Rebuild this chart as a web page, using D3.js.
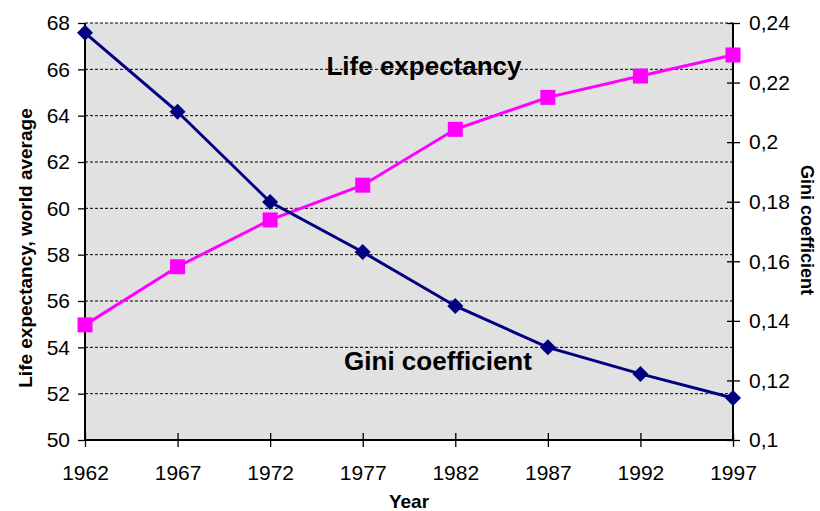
<!DOCTYPE html>
<html>
<head>
<meta charset="utf-8">
<script src="https://cdn.jsdelivr.net/npm/d3@7"></script>
<style>
  body { margin: 0; background: #fff; }
  text { font-family: "Liberation Sans", Arial, sans-serif; }
</style>
</head>
<body>
<div id="chart"></div>
<script>
// data
var years = [1962, 1967, 1972, 1977, 1982, 1987, 1992, 1997];
var lifeExp = [54.97, 57.48, 59.5, 61.0, 63.41, 64.79, 65.71, 66.62];
var gini = [0.2367, 0.2102, 0.1799, 0.1631, 0.145, 0.1311, 0.1222, 0.1141];
var leftTicks = [50, 52, 54, 56, 58, 60, 62, 64, 66, 68];
var rightTicks = [0.1, 0.12, 0.14, 0.16, 0.18, 0.2, 0.22, 0.24];

var W = 820, H = 511;
var margin = { top: 23, right: 87, bottom: 71, left: 85 };
var width = W - margin.left - margin.right,
    height = H - margin.top - margin.bottom;

var svg = d3.select("#chart").append("svg")
    .attr("width", W).attr("height", H);

var g = svg.append("g")
    .attr("transform", "translate(" + margin.left + "," + margin.top + ")");

var x = d3.scaleLinear().domain([1962, 1997]).range([0, width]);
var yL = d3.scaleLinear().domain([50, 68]).range([height, 0]);
var yR = d3.scaleLinear().domain([0.1, 0.24]).range([height, 0]);

// plot background
g.append("rect")
    .attr("width", width).attr("height", height)
    .attr("fill", "#e1e1e1");

// dashed gridlines
g.append("g").selectAll("line")
    .data(leftTicks.filter(function (d) { return d > 50; }))
    .enter().append("line")
    .attr("x1", 0).attr("x2", width)
    .attr("y1", function (d) { return yL(d); })
    .attr("y2", function (d) { return yL(d); })
    .attr("stroke", "#000").attr("stroke-width", 1)
    .attr("stroke-dasharray", "3,2");

var fmtComma = function (d) { return d3.format("~g")(+d.toFixed(2)).replace(".", ","); };

// axes
var axL = g.append("g")
    .call(d3.axisLeft(yL).tickValues(leftTicks).tickSize(7).tickPadding(8));
var axR = g.append("g").attr("transform", "translate(" + width + ",0)")
    .call(d3.axisRight(yR).tickValues(rightTicks).tickSize(7).tickPadding(9).tickFormat(fmtComma));
var axB = g.append("g").attr("transform", "translate(0," + height + ")")
    .call(d3.axisBottom(x).tickValues(years).tickSize(7).tickPadding(18).tickFormat(d3.format("d")));

[axL, axR, axB].forEach(function (a) {
  a.attr("font-size", null).attr("font-family", null);
  a.select(".domain").attr("stroke", "#000").attr("stroke-width", 2);
  a.selectAll(".tick line").attr("stroke", "#000").attr("stroke-width", 1.3);
  a.selectAll(".tick text").style("font-size", "21px").attr("fill", "#000");
});
axL.select(".domain").attr("d", "M0," + height + "V0");
axR.select(".domain").attr("d", "M0," + height + "V0");
axB.select(".domain").attr("d", "M0,0H" + width);
// bottom ticks cross the axis
axB.selectAll(".tick line").attr("y1", -7);
axR.selectAll(".tick line").attr("x1", -6);

// life expectancy line
var lineL = d3.line()
    .x(function (d, i) { return x(years[i]); })
    .y(function (d) { return yL(d); });
g.append("path").datum(lifeExp)
    .attr("d", lineL)
    .attr("fill", "none").attr("stroke", "#ff00ff").attr("stroke-width", 3);
g.append("g").selectAll("rect")
    .data(lifeExp).enter().append("rect")
    .attr("x", function (d, i) { return x(years[i]) - 7.5; })
    .attr("y", function (d) { return yL(d) - 7.5; })
    .attr("width", 15).attr("height", 15)
    .attr("fill", "#ff00ff");

// gini line
var lineR = d3.line()
    .x(function (d, i) { return x(years[i]); })
    .y(function (d) { return yR(d); });
g.append("path").datum(gini)
    .attr("d", lineR)
    .attr("fill", "none").attr("stroke", "#000080").attr("stroke-width", 3);
g.append("g").selectAll("path.dia")
    .data(gini).enter().append("path")
    .attr("class", "dia")
    .attr("d", "M0,-8L8,0L0,8L-8,0Z")
    .attr("transform", function (d, i) { return "translate(" + x(years[i]) + "," + yR(d) + ")"; })
    .attr("fill", "#000080");

// labels inside the plot
g.append("text")
    .attr("x", 339).attr("y", 52)
    .attr("text-anchor", "middle")
    .style("font-size", "26px").attr("font-weight", "bold")
    .text("Life expectancy");
g.append("text")
    .attr("x", 353).attr("y", 347)
    .attr("text-anchor", "middle")
    .style("font-size", "26px").attr("font-weight", "bold")
    .text("Gini coefficient");

// axis titles
svg.append("text")
    .attr("x", margin.left + width / 2).attr("y", 508)
    .attr("text-anchor", "middle")
    .style("font-size", "19px").attr("font-weight", "bold")
    .text("Year");
svg.append("text")
    .attr("transform", "translate(32,248) rotate(-90)")
    .attr("text-anchor", "middle")
    .style("font-size", "19px").attr("font-weight", "bold")
    .text("Life expectancy, world average");
svg.append("text")
    .attr("transform", "translate(801,230) rotate(90)")
    .attr("text-anchor", "middle")
    .style("font-size", "18px").attr("font-weight", "bold")
    .text("Gini coefficient");
</script>
</body>
</html>
